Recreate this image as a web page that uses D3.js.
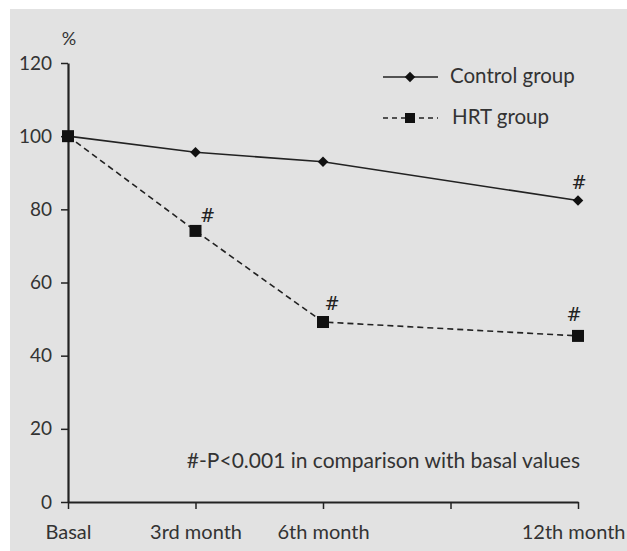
<!DOCTYPE html>
<html><head><meta charset="utf-8">
<script src="https://cdn.jsdelivr.net/npm/d3@7"></script>
<style>body{margin:0;background:#fff;} svg{display:block;}</style>
</head><body>
<script>
const months = [0, 3, 6, 12];
const xTickMonths = [0, 3, 6, 9, 12];
const xTickLabels = {0: "Basal", 3: "3rd month", 6: "6th month", 12: "12th month"};
const controlValues = [100, 95.6, 93.0, 82.4];
const hrtValues = [100, 74.1, 49.2, 45.4];
const yTicks = [0, 20, 40, 60, 80, 100, 120];
const controlSig = [false, false, false, true];
const hrtSig = [false, true, true, true];

const W = 627, H = 551;
const svg = d3.select("body").append("svg").attr("width", W).attr("height", H);
const font = "Lato, 'Open Sans', sans-serif";
const ink = "#222";
const txt = "#333";

svg.append("rect").attr("x", 10).attr("y", 9).attr("width", W - 10).attr("height", H - 9).attr("fill", "#e2e2e2");

const x = d3.scaleLinear().domain([0, 12]).range([68, 578]);
const y = d3.scaleLinear().domain([0, 120]).range([502, 63]);

const yAxis = svg.append("g").attr("transform", `translate(${x(0)},0)`)
  .call(d3.axisLeft(y).tickValues(yTicks).tickSize(7).tickPadding(9).tickSizeOuter(0));
const xAxis = svg.append("g").attr("transform", `translate(0,${y(0)})`)
  .call(d3.axisBottom(x).tickValues(xTickMonths).tickSize(7).tickPadding(7).tickSizeOuter(0)
    .tickFormat(d => xTickLabels[d] || ""));
[yAxis, xAxis].forEach(g => {
  g.select(".domain").attr("stroke", ink).attr("stroke-width", 2.2);
  g.selectAll(".tick line").attr("stroke", ink).attr("stroke-width", 1.5);
  g.selectAll("text").attr("fill", txt).style("font-family", font);
});
yAxis.selectAll("text").style("font-size", "19px");
xAxis.selectAll(".tick text").style("font-size", "20px").attr("y", 37).attr("dy", 0);
// last label would run past the right edge: anchor it to end inside the picture
xAxis.selectAll(".tick text").filter(d => d === 12)
  .attr("text-anchor", "end").attr("x", W - 2 - x(12));

svg.append("text").attr("x", 69).attr("y", 45).attr("text-anchor", "middle")
  .attr("fill", txt).style("font-family", font).style("font-size", "18px").text("%");

const ctrl = months.map((m, i) => ({m, v: controlValues[i], s: controlSig[i]}));
const hrt = months.map((m, i) => ({m, v: hrtValues[i], s: hrtSig[i]}));
const line = d3.line().x(d => x(d.m)).y(d => y(d.v));

svg.append("path").datum(ctrl).attr("d", line).attr("fill", "none").attr("stroke", ink).attr("stroke-width", 1.6);
svg.append("path").datum(hrt).attr("d", line).attr("fill", "none").attr("stroke", ink).attr("stroke-width", 1.6)
  .attr("stroke-dasharray", "6,4");

const diamond = d3.symbol().type(d3.symbolDiamond2).size(70);
svg.selectAll(".dia").data(ctrl).enter().append("path")
  .attr("transform", d => `translate(${x(d.m)},${y(d.v)})`).attr("d", diamond).attr("fill", "#111");
svg.selectAll(".sq").data(hrt).enter().append("rect")
  .attr("x", d => x(d.m) - 6).attr("y", d => y(d.v) - 6).attr("width", 12).attr("height", 12).attr("fill", "#111");

const hashStyle = s => s.attr("fill", "#222").style("font-family", "'DejaVu Serif', serif").style("font-size", "18px").attr("text-anchor", "middle");
svg.selectAll(".hc").data(ctrl.filter(d => d.s)).enter().append("text")
  .attr("x", d => x(d.m) + 1).attr("y", d => y(d.v) - 12).text("#").call(hashStyle);
const hrtOff = {3: [12, -9], 6: [9, -12], 12: [-4, -15]};
svg.selectAll(".hh").data(hrt.filter(d => d.s)).enter().append("text")
  .attr("x", d => x(d.m) + hrtOff[d.m][0]).attr("y", d => y(d.v) + hrtOff[d.m][1]).text("#").call(hashStyle);

const lg = svg.append("g");
lg.append("line").attr("x1", 383).attr("x2", 438).attr("y1", 77).attr("y2", 77).attr("stroke", ink).attr("stroke-width", 1.4);
lg.append("path").attr("transform", "translate(410,77)").attr("d", diamond).attr("fill", "#111");
lg.append("line").attr("x1", 383).attr("x2", 438).attr("y1", 118).attr("y2", 118).attr("stroke", ink).attr("stroke-width", 1.4).attr("stroke-dasharray", "5,4");
lg.append("rect").attr("x", 405).attr("y", 113).attr("width", 10).attr("height", 10).attr("fill", "#111");
lg.append("text").attr("x", 450).attr("y", 83).text("Control group").attr("fill", txt).style("font-family", font).style("font-size", "20.5px");
lg.append("text").attr("x", 452).attr("y", 124).text("HRT group").attr("fill", txt).style("font-family", font).style("font-size", "20.5px");

svg.append("text").attr("x", 580).attr("y", 468).attr("text-anchor", "end")
  .text("#-P<0.001 in comparison with basal values").attr("fill", txt).style("font-family", font).style("font-size", "21px");
</script>
</body></html>
